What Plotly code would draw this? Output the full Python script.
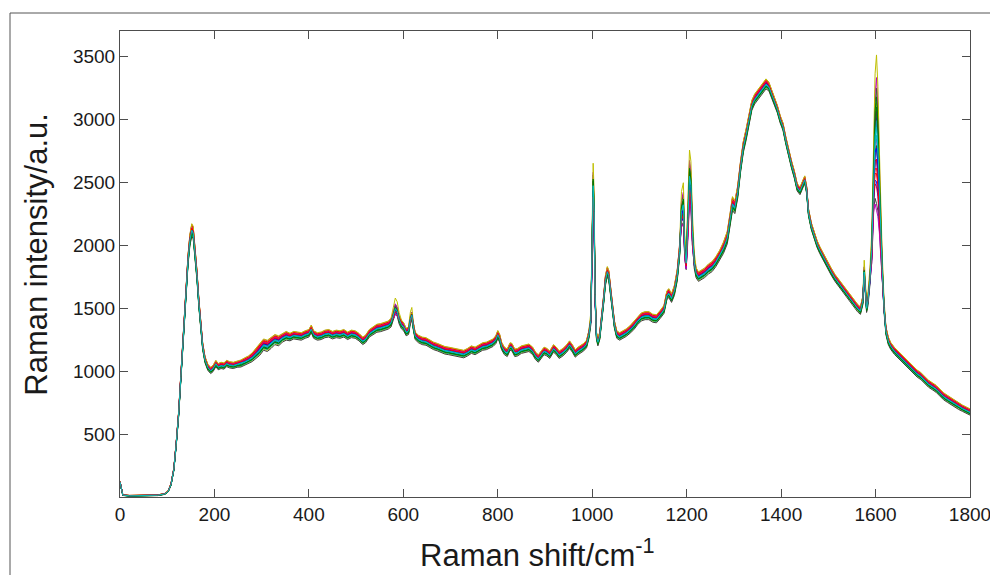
import plotly.graph_objects as go

# Raman shift axis (cm^-1) and the band of spectra: centre intensity and half-width of the spread
shift = [0, 3, 6, 20, 40, 60, 80, 95, 102, 108, 114, 119, 124, 129, 134, 139, 144, 148, 152, 155,
         159, 163, 167, 171, 175, 180, 186, 192, 197, 203, 208, 214, 220, 226, 232, 240, 248, 256, 264, 272,
         280, 288, 296, 304, 312, 320, 328, 336, 344, 352, 360, 368, 376, 384, 392, 400, 405, 410, 418, 426,
         434, 442, 450, 458, 466, 474, 482, 490, 498, 506, 514, 520, 528, 536, 544, 552, 560, 568, 574, 579,
         583, 587, 591, 596, 601, 606, 611, 615, 618, 621, 625, 632, 640, 648, 656, 664, 672, 680, 688, 696,
         704, 712, 720, 728, 736, 744, 752, 760, 768, 776, 784, 790, 796, 800, 804, 808, 814, 820, 826, 830,
         836, 842, 850, 858, 866, 874, 880, 886, 892, 898, 904, 910, 918, 924, 930, 938, 946, 952, 958, 964,
         970, 976, 982, 988, 993, 997, 1000, 1002, 1004, 1006, 1009, 1012, 1016, 1020, 1024, 1028, 1032, 1035, 1039, 1043,
         1047, 1052, 1058, 1065, 1072, 1080, 1088, 1096, 1104, 1112, 1120, 1128, 1136, 1144, 1152, 1158, 1162, 1168, 1174, 1180,
         1185, 1189, 1193, 1196, 1199, 1203, 1206, 1209, 1212, 1216, 1220, 1225, 1230, 1238, 1246, 1254, 1262, 1270, 1278, 1286,
         1292, 1297, 1302, 1308, 1314, 1320, 1326, 1332, 1338, 1344, 1350, 1356, 1362, 1368, 1374, 1380, 1386, 1392, 1398, 1404,
         1410, 1416, 1422, 1428, 1434, 1440, 1445, 1450, 1454, 1458, 1464, 1470, 1476, 1482, 1490, 1498, 1506, 1514, 1522, 1530,
         1538, 1546, 1554, 1562, 1568, 1573, 1576, 1578, 1581, 1584, 1588, 1592, 1596, 1599, 1602, 1605, 1608, 1611, 1614, 1618,
         1622, 1627, 1632, 1640, 1648, 1656, 1664, 1672, 1680, 1688, 1696, 1704, 1712, 1720, 1728, 1736, 1744, 1752, 1760, 1768,
         1776, 1784, 1792, 1800]

centre = [120, 60, 15, 10, 12, 10, 14, 25, 45, 100, 220, 420, 650, 960, 1280, 1600, 1880, 2040, 2120, 2100,
          1950, 1760, 1540, 1350, 1200, 1090, 1030, 1005, 1020, 1060, 1035, 1045, 1040, 1060, 1050, 1045, 1055, 1060, 1075, 1090,
          1110, 1140, 1170, 1210, 1200, 1225, 1250, 1240, 1265, 1280, 1270, 1285, 1280, 1275, 1290, 1300, 1335, 1290, 1275, 1280,
          1295, 1300, 1285, 1295, 1290, 1300, 1280, 1295, 1290, 1270, 1240, 1255, 1300, 1320, 1340, 1345, 1355, 1365, 1385, 1440,
          1490, 1470, 1410, 1370, 1350, 1310, 1320, 1410, 1440, 1360, 1280, 1255, 1240, 1235, 1215, 1200, 1190, 1175, 1165, 1160,
          1155, 1150, 1140, 1135, 1150, 1170, 1160, 1180, 1195, 1200, 1215, 1225, 1250, 1290, 1260, 1200, 1160, 1145, 1195, 1190,
          1145, 1150, 1170, 1180, 1185, 1160, 1120, 1100, 1130, 1160, 1150, 1130, 1180, 1160, 1130, 1150, 1180, 1210, 1180, 1140,
          1160, 1175, 1190, 1215, 1290, 1400, 2000, 2450, 2250, 1600, 1280, 1230, 1280, 1400, 1560, 1720, 1790, 1760, 1640, 1500,
          1370, 1290, 1275, 1290, 1305, 1330, 1360, 1400, 1430, 1440, 1440, 1420, 1415, 1450, 1490, 1600, 1620, 1580, 1640, 1760,
          1950, 2250, 2300, 1950, 1850, 2200, 2520, 2450, 2100, 1860, 1780, 1750, 1760, 1780, 1810, 1830, 1870, 1920, 1980, 2060,
          2200, 2330, 2300, 2420, 2620, 2780, 2880, 2990, 3110, 3160, 3190, 3215, 3250, 3280, 3260, 3200, 3150, 3080, 3000, 2940,
          2830, 2730, 2640, 2560, 2460, 2430, 2470, 2520, 2440, 2260, 2150, 2080, 2010, 1960, 1900, 1840, 1790, 1740, 1700, 1660,
          1620, 1580, 1540, 1500, 1480, 1560, 1780, 1680, 1500, 1560, 1720, 1950, 2500, 2800, 2850, 2700, 2400, 2050, 1800, 1500,
          1320, 1240, 1200, 1160, 1130, 1100, 1070, 1040, 1010, 980, 960, 930, 900, 880, 860, 830, 800, 780, 760, 740,
          720, 705, 690, 675]

# Spread of the baseline between spectra (half-width, a.u.)
half_width = [5, 5, 3, 3, 3, 3, 3, 4, 5, 8, 10, 15, 20, 25, 30, 35, 40, 45, 50, 50,
              45, 40, 35, 30, 28, 25, 25, 25, 25, 25, 25, 25, 25, 25, 25, 25, 25, 28, 30, 30,
              35, 40, 45, 45, 45, 45, 40, 40, 35, 35, 30, 30, 30, 30, 30, 30, 30, 30, 30, 30,
              30, 30, 30, 30, 30, 30, 30, 30, 30, 30, 30, 30, 30, 30, 32, 32, 32, 32, 35, 35,
              35, 35, 35, 35, 32, 30, 30, 35, 35, 30, 30, 30, 30, 30, 30, 30, 30, 30, 30, 30,
              30, 30, 30, 30, 30, 30, 30, 30, 30, 30, 30, 30, 32, 32, 32, 30, 30, 30, 30, 30,
              30, 30, 30, 30, 30, 30, 30, 30, 30, 30, 30, 30, 30, 30, 30, 30, 30, 30, 30, 30,
              30, 30, 30, 30, 32, 35, 40, 40, 40, 35, 30, 30, 30, 32, 35, 40, 40, 40, 35, 32,
              30, 30, 30, 30, 30, 30, 32, 32, 32, 32, 32, 32, 32, 32, 32, 35, 35, 35, 40, 45,
              45, 45, 45, 45, 45, 45, 45, 45, 45, 45, 40, 38, 38, 38, 40, 40, 40, 40, 45, 50,
              55, 55, 50, 50, 45, 45, 45, 45, 40, 40, 40, 40, 40, 40, 35, 35, 30, 30, 30, 30,
              30, 30, 30, 30, 30, 30, 30, 30, 30, 30, 28, 28, 28, 28, 28, 28, 28, 28, 28, 28,
              28, 28, 28, 30, 30, 35, 40, 40, 35, 40, 40, 45, 50, 60, 60, 60, 50, 45, 40, 35,
              32, 30, 28, 28, 28, 28, 28, 28, 28, 28, 28, 28, 28, 28, 28, 28, 28, 28, 28, 28,
              25, 25, 25, 25]

# Extra spread of the sharp band heights between spectra (half-width, a.u.)
peak_spread = {579: 40, 583: 55, 587: 45, 591: 20, 615: 25, 618: 30,
               997: 30, 1000: 130, 1002: 160, 1004: 130, 1006: 60,
               1189: 130, 1193: 150, 1196: 80, 1199: 60, 1203: 160, 1206: 190, 1209: 170, 1212: 120, 1216: 40,
               1576: 60, 1578: 40, 1584: 30, 1588: 50, 1592: 110, 1596: 260, 1599: 500, 1602: 600,
               1605: 500, 1608: 320, 1611: 170, 1614: 100, 1618: 30}

# Position of each measured spectrum inside the band (-1 = lowest, +1 = highest)
baseline_offsets = [0.2, -0.5, 0.6, -0.1, 0.9, -0.8, 0.35, -0.3, 0.1, 0.5, -0.65, 0.0, 0.75,
                    -1.0, 0.25, -0.4, 0.7, -0.2, 0.45, 1.0, 0.05, 0.15, -0.55, 0.3, -0.05]
peak_offsets = [-0.3, 0.4, -0.7, 0.2, -0.1, 0.55, -0.9, 0.3, 0.65, -0.45, 0.1, 0.8, -0.2,
                0.0, -0.6, 0.45, -0.35, 0.25, -1.0, 1.0, 0.35, -0.15, 0.6, -0.5, 0.15]

# Classic line colour order, cycled over the spectra
line_colors = ["#0000ff", "#008000", "#ff0000", "#00bfbf", "#bf00bf", "#bfbf00", "#404040"]

x_ticks = [0, 200, 400, 600, 800, 1000, 1200, 1400, 1600, 1800]
y_ticks = [500, 1000, 1500, 2000, 2500, 3000, 3500]

fig = go.Figure()
for i, (a, b) in enumerate(zip(baseline_offsets, peak_offsets)):
    y = [c + a * h + b * peak_spread.get(s, 0) for s, c, h in zip(shift, centre, half_width)]
    fig.add_trace(go.Scatter(
        x=shift, y=y, mode="lines",
        line=dict(color=line_colors[i % len(line_colors)], width=1),
        hoverinfo="skip", showlegend=False,
    ))

font_family = "Liberation Sans, Arial, sans-serif"
axis_common = dict(
    showline=True, linecolor="#4d4d4d", linewidth=1, mirror="ticks",
    ticks="inside", ticklen=8, tickwidth=1, tickcolor="#4d4d4d",
    showgrid=False, zeroline=False, ticklabeloverflow="allow", automargin=False,
    tickfont=dict(family=font_family, size=19, color="#1a1a1a"),
)

fig.update_layout(
    width=990, height=575,
    margin=dict(l=120, r=20, t=31, b=78),
    paper_bgcolor="white", plot_bgcolor="white",
    xaxis=dict(range=[0, 1800], tickvals=x_ticks, **axis_common),
    yaxis=dict(range=[0, 3700], tickvals=y_ticks, **axis_common),
    shapes=[dict(
        type="rect", xref="paper", yref="paper",
        x0=-0.1294, x1=1.1, y0=-0.3, y1=1.0386,
        line=dict(color="#555555", width=1), fillcolor="rgba(0,0,0,0)", layer="below",
    )],
    annotations=[
        dict(text="Raman shift/cm<sup>-1</sup>", xref="paper", yref="paper",
             x=0.491, y=-0.072, xanchor="center", yanchor="top", showarrow=False,
             font=dict(family=font_family, size=31, color="#1a1a1a")),
        dict(text="Raman intensity/a.u.", xref="paper", yref="paper",
             x=-0.0976, y=0.52, xanchor="center", yanchor="middle", showarrow=False, textangle=-90,
             font=dict(family=font_family, size=31, color="#1a1a1a")),
    ],
)

fig.write_html("out.html")
